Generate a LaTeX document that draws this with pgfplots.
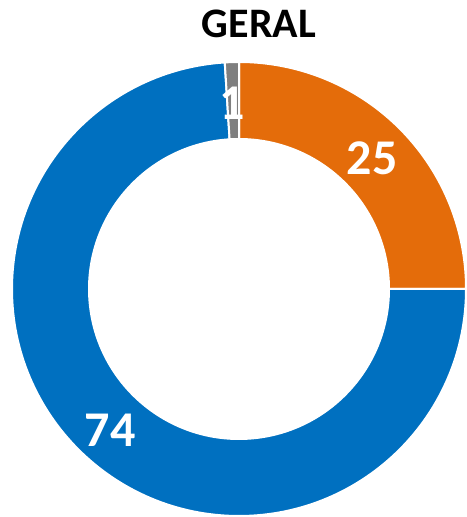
\documentclass[border=0pt]{standalone}
\usepackage{pgfplots}
\pgfplotsset{compat=1.18}
\usepackage{pgfplotstable}
\usepackage{fontspec}
\setmainfont{Carlito}
\definecolor{corange}{HTML}{E46C0A}
\definecolor{cblue}{HTML}{0070C0}
\definecolor{cgray}{HTML}{7F7F7F}
\pgfplotstableread{
label value
Laranja 25
Azul 74
Cinza 1
}\donutdata
\pgfplotstablegetelem{0}{value}\of\donutdata \let\va\pgfplotsretval
\pgfplotstablegetelem{1}{value}\of\donutdata \let\vb\pgfplotsretval
\pgfplotstablegetelem{2}{value}\of\donutdata \let\vc\pgfplotsretval
\begin{document}
\begin{tikzpicture}
\pgfmathsetmacro\aA{90}
\pgfmathsetmacro\aB{90-\va*3.6}
\pgfmathsetmacro\aC{\aB-\vb*3.6}
\pgfmathsetmacro\aD{\aC-\vc*3.6}
\def\Ro{113.5pt}\def\Ri{75pt}
\begin{axis}[
  scale only axis, width=233pt, height=258.5pt,
  xmin=0, xmax=466, ymin=0, ymax=517,
  hide axis, clip=false,
]
\coordinate (C) at (axis cs:239,228);
\coordinate (LL) at (axis cs:0,0);
\coordinate (UR) at (axis cs:466,517);
\coordinate (L1) at (axis cs:372,359);
\coordinate (L2) at (axis cs:110,87);
\coordinate (L3) at (axis cs:232,414);
\node[font=\bfseries\fontsize{21}{24}\selectfont, anchor=base] at (axis cs:259,479) {GERAL};
\end{axis}
\foreach \s/\e/\c in {\aA/\aB/corange,\aB/\aC/cblue,\aC/\aD/cgray}{
  \fill[\c, draw=white, line width=1pt]
    ([shift={(\s:\Ro)}]C) arc[start angle=\s, end angle=\e, radius=\Ro]
    -- ([shift={(\e:\Ri)}]C) arc[start angle=\e, end angle=\s, radius=\Ri] -- cycle;
}
\begin{scope}[font=\bfseries\fontsize{25}{28}\selectfont, text=white]
\node at (L1) {\va};
\node at (L2) {\vb};
\node at (L3) {\vc};
\end{scope}
\pgfresetboundingbox
\useasboundingbox (LL) rectangle (UR);
\end{tikzpicture}
\end{document}
